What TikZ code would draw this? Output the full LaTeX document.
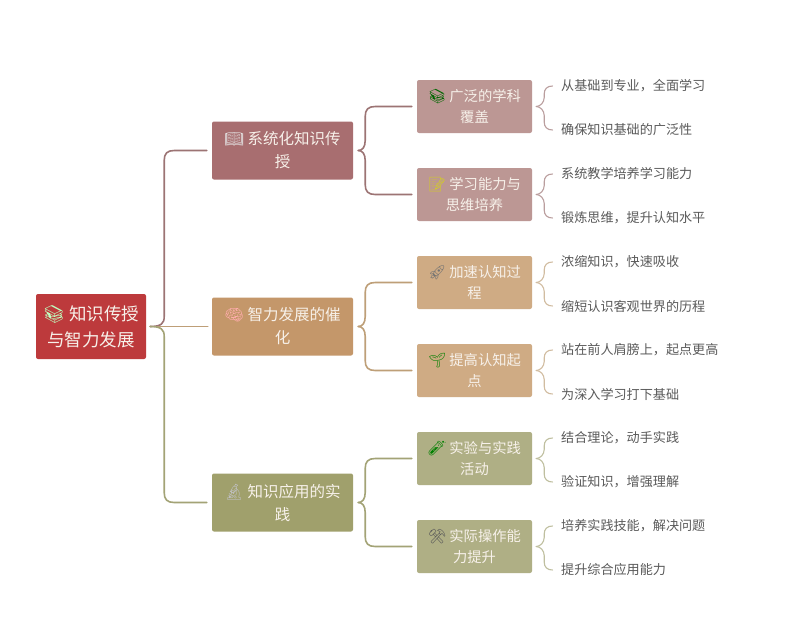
\documentclass[tikz,border=0pt]{standalone}
\usepackage{fontspec}
\setmainfont{Noto Sans CJK SC}[Scale=1]
\newfontfamily\emo{Noto Emoji}
\usetikzlibrary{calc}
\definecolor{rootc}{HTML}{BD3A3C}
\definecolor{aone}{HTML}{A86E70}\definecolor{atwo}{HTML}{BC9794}\definecolor{aline}{HTML}{9C7474}
\definecolor{bone}{HTML}{C4976A}\definecolor{btwo}{HTML}{CFAB84}\definecolor{bline}{HTML}{BE9F78}
\definecolor{cone}{HTML}{A0A06C}\definecolor{ctwo}{HTML}{AFAF85}\definecolor{cline}{HTML}{A3A376}
\definecolor{txt}{HTML}{F7F1EA}\definecolor{leaft}{HTML}{5A5A5A}
\tikzset{
 rootbox/.style={fill=rootc,rounded corners=2pt,minimum width=110pt,minimum height=65pt,inner sep=0pt,align=center,text=txt,font=\fontsize{17.5}{26}\selectfont},
 onebox/.style={rounded corners=2pt,minimum width=141pt,minimum height=58pt,inner sep=0pt,align=center,text=txt,font=\fontsize{15.5}{23}\selectfont},
 twobox/.style={rounded corners=2pt,minimum width=115pt,minimum height=53pt,inner sep=0pt,align=center,text=txt,font=\fontsize{14.3}{21}\selectfont},
 leafnode/.style={anchor=west,inner sep=0pt,text=leaft,font=\fontsize{13.1}{16}\selectfont},
 link/.style={line width=1.6pt,line cap=round},
 thin link/.style={line width=1.1pt,line cap=round},
}
% \brc{style}{from}{to}{start gap}{bend offset}{end gap}
\newcommand{\brc}[6]{%
 \draw[#1] let \p1=(#2.east),\p2=(#3.west),
   \n1={\x1+#4},\n2={\x1+#4+#5},\n3={\x2-#6},
   \n4={(\y2>\y1)?1:-1} in
   (\n1,\y1) .. controls (\n2-3pt,\y1) and (\n2,\y1+\n4*3pt) .. (\n2,\y1+\n4*10pt)
   -- (\n2,\y2-\n4*10pt) .. controls (\n2,\y2-\n4*3pt) and (\n2+3pt,\y2) .. (\n2+10pt,\y2) -- (\n3,\y2);}
\newcommand{\brl}[6]{%
 \draw[#1] let \p1=(#2.east),\p2=(#3.west),
   \n1={\x1+#4},\n2={\x1+#4+#5},\n3={\x2-#6},
   \n4={(\y2>\y1)?1:-1} in
   (\n1,\y1) .. controls (\n2-4pt,\y1) and (\n2,\y1+\n4*4pt) .. (\n2,\y1+\n4*9pt)
   -- (\n2,\y2-\n4*8pt) .. controls (\n2,\y2-\n4*3pt) and (\n2+3pt,\y2) .. (\n3,\y2);}
\newcommand{\ico}[2]{{\color{#1}\emo #2}}
\begin{document}
\begin{tikzpicture}[x=1pt,y=-1pt]
\useasboundingbox (0,0) rectangle (800,618);
\fill[white] (0,0) rectangle (800,618);
\node[rootbox] (r) at (91,326.5) {\ico{green!25!white}{📚} 知识传授\\与智力发展};
\node[onebox,fill=aone] (a) at (282.5,150.5) {\ico{black!10}{📖} 系统化知识传\\授};
\node[onebox,fill=bone] (b) at (282.5,326.5) {\ico{pink!90!red}{🧠} 智力发展的催\\化};
\node[onebox,fill=cone] (c) at (282.5,502.5) {\ico{black!25}{🔬} 知识应用的实\\践};
\node[twobox,fill=atwo] (a1) at (474.5,106.5) {\ico{green!40!black}{📚} 广泛的学科\\覆盖};
\node[twobox,fill=atwo] (a2) at (474.5,194.5) {\ico{yellow!80!black}{📝} 学习能力与\\思维培养};
\node[twobox,fill=btwo] (b1) at (474.5,282.5) {\ico{black!55}{🚀} 加速认知过\\程};
\node[twobox,fill=btwo] (b2) at (474.5,370.5) {\ico{green!50!black}{🌱} 提高认知起\\点};
\node[twobox,fill=ctwo] (c1) at (474.5,458.5) {\ico{green!50!black}{🧪} 实验与实践\\活动};
\node[twobox,fill=ctwo] (c2) at (474.5,546.5) {\ico{black!65}{⚒} 实际操作能\\力提升};
\node[leafnode] (a11) at (561,86) {从基础到专业，全面学习};
\node[leafnode] (a12) at (561,130) {确保知识基础的广泛性};
\node[leafnode] (a21) at (561,174) {系统教学培养学习能力};
\node[leafnode] (a22) at (561,218) {锻炼思维，提升认知水平};
\node[leafnode] (b11) at (561,262) {浓缩知识，快速吸收};
\node[leafnode] (b12) at (561,306) {缩短认识客观世界的历程};
\node[leafnode] (b21) at (561,350) {站在前人肩膀上，起点更高};
\node[leafnode] (b22) at (561,394) {为深入学习打下基础};
\node[leafnode] (c11) at (561,438) {结合理论，动手实践};
\node[leafnode] (c12) at (561,482) {验证知识，增强理解};
\node[leafnode] (c21) at (561,526) {培养实践技能，解决问题};
\node[leafnode] (c22) at (561,570) {提升综合应用能力};
\brc{link,draw=aline}{r}{a}{4pt}{14pt}{5pt}
\draw[link,draw=bline] ($(r.east)+(4pt,0)$) -- ($(b.west)+(-4pt,0)$);
\brc{link,draw=cline}{r}{c}{4pt}{14pt}{5pt}
\foreach \pa/\kk/\col in {a/1/aline,a/2/aline,b/1/bline,b/2/bline,c/1/cline,c/2/cline}{
  \brc{link,draw=\col}{\pa}{\pa\kk}{5pt}{7pt}{5pt}
}
\foreach \pa/\col in {a1/aline,a2/aline,b1/bline,b2/bline,c1/cline,c2/cline}{
  \brl{thin link,draw=\col!70}{\pa}{\pa1}{4pt}{8pt}{8.5pt}
  \brl{thin link,draw=\col!70}{\pa}{\pa2}{4pt}{8pt}{8.5pt}
}
\end{tikzpicture}
\end{document}
